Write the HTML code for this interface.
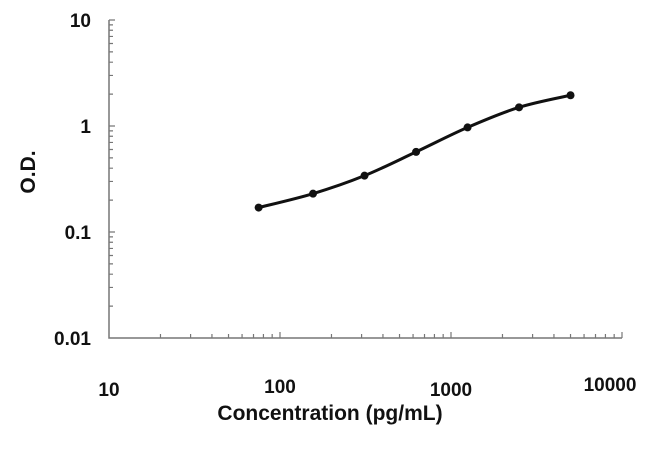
<!DOCTYPE html>
<html><head><meta charset="utf-8"><style>
body{margin:0;background:#fff;width:650px;height:447px;overflow:hidden}
text{font-family:"Liberation Sans",Arial,sans-serif;font-weight:bold;fill:#111}
</style></head><body>
<svg id="chart" width="650" height="447" xmlns="http://www.w3.org/2000/svg"></svg>
<script>
const concentrations=[75,156,312,625,1250,2500,5000];
const odValues=[0.17,0.23,0.34,0.57,0.97,1.5,1.95];
const xTicks=[10,100,1000,10000];
const yTicks=[0.01,0.1,1,10];
const yTickLabels=["0.01","0.1","1","10"];
const NS="http://www.w3.org/2000/svg";
const svg=document.getElementById('chart');
const x0=109,xDec=171,y0=338,yDec=106;
function xs(v){return x0+(Math.log10(v)-1)*xDec;}
function ys(v){return y0-(Math.log10(v)+2)*yDec;}
function mk(t,a,p){const e=document.createElementNS(NS,t);for(const k in a)e.setAttribute(k,a[k]);(p||svg).appendChild(e);return e;}
let ax=mk('path',{d:`M${xs(10)} ${ys(10)}V${ys(0.01)}H${xs(10000)}`,stroke:'#777',fill:'none','stroke-width':1.5});


let tk='';
for(let d=1;d<4;d++)for(let m=2;m<=10;m++){const X=xs(Math.pow(10,d)*m);tk+=`M${X} ${y0}v${m==10?-6:-4}`;}
for(let d=-2;d<1;d++)for(let m=2;m<=10;m++){const Y=ys(Math.pow(10,d)*m);tk+=`M${x0} ${Y}h${m==10?6:4}`;}
let t=mk('path',{d:tk,stroke:'#777','stroke-width':1.2});


xTicks.forEach((v,i)=>{const e=mk('text',{x:xs(v)+(i==3?-12:0),y:[396,393,396,391][i],'text-anchor':'middle','font-size':19});e.textContent=String(v);

});
yTicks.forEach((v,i)=>{const e=mk('text',{x:91,y:ys(v)+7,'text-anchor':'end','font-size':19});e.textContent=yTickLabels[i];

});
let xt=mk('text',{x:330,y:420,'text-anchor':'middle','font-size':21});xt.textContent='Concentration (pg/mL)';


let yt=mk('text',{x:0,y:0,'text-anchor':'middle','font-size':21,transform:'translate(35,172) rotate(-90)'});yt.textContent='O.D.';


const pts=concentrations.map((c,i)=>[xs(c),ys(odValues[i])]);
let d=`M${pts[0][0]} ${pts[0][1]}`;
for(let i=0;i<pts.length-1;i++){const p0=pts[Math.max(0,i-1)],p1=pts[i],p2=pts[i+1],p3=pts[Math.min(pts.length-1,i+2)];
d+=`C${p1[0]+(p2[0]-p0[0])/6} ${p1[1]+(p2[1]-p0[1])/6} ${p2[0]-(p3[0]-p1[0])/6} ${p2[1]-(p3[1]-p1[1])/6} ${p2[0]} ${p2[1]}`;}
let ln=mk('path',{d:d,stroke:'#111','stroke-width':3,fill:'none'});


pts.forEach(p=>{const c=mk('circle',{cx:p[0],cy:p[1],r:4,fill:'#111'});

});
</script>
</body></html>
